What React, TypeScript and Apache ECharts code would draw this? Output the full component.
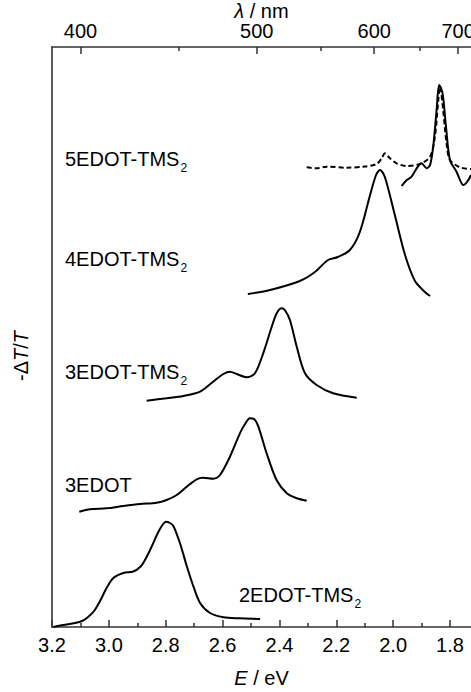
import React, { useEffect, useRef } from "react";
import * as echarts from "echarts";

// Photon energy (eV) vs. normalised -ΔT/T (arbitrary units, traces stacked with offsets)
const edot2Tms2: number[][] = [
  [3.195, 0], [3.161, 0.2], [3.119, 0.4], [3.094, 0.6], [3.073, 1.0], [3.052, 1.6],
  [3.031, 2.6], [3.008, 3.9], [2.984, 4.9], [2.949, 5.4], [2.914, 5.55], [2.89, 6.0],
  [2.873, 6.7], [2.855, 7.7], [2.826, 9.5], [2.809, 10.3], [2.799, 10.53], [2.785, 10.4],
  [2.773, 10.1], [2.75, 8.4], [2.726, 6.1], [2.703, 4.1], [2.679, 2.4], [2.644, 1.4],
  [2.597, 0.97], [2.539, 0.87], [2.468, 0.8],
];

const edot3: number[][] = [
  [3.104, 11.53], [3.066, 11.77], [3.008, 11.87], [2.949, 12.1], [2.89, 12.3],
  [2.832, 12.43], [2.797, 12.7], [2.761, 13.2], [2.726, 14.03], [2.691, 14.77],
  [2.668, 14.93], [2.633, 14.83], [2.609, 15.2], [2.574, 17.03], [2.539, 19.37],
  [2.521, 20.3], [2.504, 20.87], [2.489, 20.8], [2.474, 20.03], [2.445, 17.37],
  [2.41, 14.7], [2.374, 13.37], [2.339, 12.87], [2.304, 12.63],
];

const edot3Tms2: number[][] = [
  [2.867, 22.63], [2.797, 22.87], [2.738, 23.1], [2.679, 23.53], [2.633, 24.53],
  [2.597, 25.3], [2.574, 25.53], [2.55, 25.3], [2.515, 24.97], [2.486, 25.37],
  [2.457, 27.37], [2.427, 30.03], [2.409, 31.4], [2.392, 31.87], [2.381, 31.7],
  [2.363, 30.7], [2.339, 28.03], [2.31, 25.37], [2.269, 24.2], [2.211, 23.37],
  [2.128, 22.93],
];

const edot4Tms2: number[][] = [
  [2.511, 33.3], [2.433, 33.7], [2.328, 34.6], [2.275, 35.5], [2.229, 36.7],
  [2.194, 37.0], [2.152, 37.7], [2.117, 39.5], [2.081, 43.2], [2.06, 45.2],
  [2.046, 45.7], [2.029, 45.0], [1.994, 41.2], [1.958, 37.2], [1.923, 34.6],
  [1.888, 33.5], [1.87, 33.1],
];

const edot5Tms2Dashed: number[][] = [
  [2.304, 45.97], [2.269, 45.87], [2.234, 46.03], [2.163, 45.93], [2.105, 46.03],
  [2.058, 46.3], [2.04, 46.87], [2.029, 47.37], [2.011, 46.87], [1.988, 46.37],
  [1.952, 46.1], [1.906, 46.3], [1.87, 47.03], [1.853, 49.03], [1.841, 52.7],
  [1.835, 54.03], [1.824, 51.7], [1.812, 48.37], [1.8, 46.7], [1.765, 45.97],
  [1.726, 45.8],
];

const edot5Tms2Solid: number[][] = [
  [1.97, 44.1], [1.952, 44.7], [1.935, 45.03], [1.917, 45.87], [1.9, 46.37],
  [1.882, 45.87], [1.87, 46.2], [1.859, 48.03], [1.847, 51.7], [1.838, 54.2],
  [1.826, 53.37], [1.814, 50.03], [1.8, 46.7], [1.777, 45.53], [1.753, 44.2],
  [1.74, 44.5], [1.726, 45.2],
];

// Axis ticks
const energyMajor = [3.2, 3.0, 2.8, 2.6, 2.4, 2.2, 2.0, 1.8];
const energyMinor = [3.1, 2.9, 2.7, 2.5, 2.3, 2.1, 1.9];
const lambdaMajor = [400, 500, 600, 700];
const lambdaMinor = [450, 550, 650, 750];

const HC = 1239.84; // eV·nm
const E_MIN = 1.726;
const E_MAX = 3.2;

const FONT = "'Liberation Sans', Arial, sans-serif";
const INK = "#000";
const AXIS = "#333";

const traceLabels = [
  { main: "5EDOT-TMS", sub: "2", x: 65, y: 149 },
  { main: "4EDOT-TMS", sub: "2", x: 65, y: 249 },
  { main: "3EDOT-TMS", sub: "2", x: 65, y: 362 },
  { main: "3EDOT", sub: "", x: 65, y: 475 },
  { main: "2EDOT-TMS", sub: "2", x: 239, y: 585 },
];

const italicRich = {
  i: { fontStyle: "italic", fontFamily: FONT, fontSize: 20, lineHeight: 18, fill: INK, color: INK },
};

export default function App() {
  const ref = useRef<HTMLDivElement>(null);

  useEffect(() => {
    if (!ref.current) return;
    const chart = echarts.init(ref.current, undefined, { renderer: "svg" });

    const line = (data: number[][], dashed = false) => ({
      type: "line",
      data,
      xAxisIndex: 0,
      yAxisIndex: 0,
      showSymbol: false,
      smooth: 0.3,
      clip: true,
      lineStyle: { color: INK, width: 2, type: dashed ? [5, 3] : "solid" },
      silent: true,
    });

    const tickStyle = { color: AXIS, width: 1.5 };

    const labelGraphics = traceLabels.map((l) => ({
      type: "text",
      x: l.x,
      y: l.y,
      silent: true,
      style: {
        text: l.sub ? `{m|${l.main}}{s|${l.sub}}` : `{m|${l.main}}`,
        align: "left",
        verticalAlign: "top",
        fill: INK,
        rich: {
          m: { fontFamily: FONT, fontSize: 20, lineHeight: 20, verticalAlign: "top", fill: INK },
          s: {
            fontFamily: FONT,
            fontSize: 12,
            lineHeight: 12,
            verticalAlign: "top",
            padding: [13, 0, 0, 1],
            fill: INK,
          },
        },
      },
    }));

    // vertical axis title
    const yTitle = {
      type: "text",
      x: 21,
      y: 356,
      rotation: Math.PI / 2,
      silent: true,
      style: {
        text: "-Δ{i|T}/{i|T}",
        align: "center",
        verticalAlign: "middle",
        fontFamily: FONT,
        fontSize: 20,
        fill: INK,
        rich: italicRich,
      },
    };

    chart.setOption({
      animation: false,
      backgroundColor: "#fff",
      grid: {
        left: 52,
        right: 0,
        top: 47,
        bottom: 65,
        containLabel: false,
        outerBoundsMode: "none",
      },
      xAxis: [
        {
          type: "value",
          position: "bottom",
          inverse: true,
          min: E_MIN,
          max: E_MAX,
          name: "{i|E} / eV",
          nameLocation: "middle",
          nameGap: 42,
          nameMoveOverlap: false,
          nameTextStyle: { fontFamily: FONT, fontSize: 20, lineHeight: 18, color: INK, rich: italicRich },
          axisLine: { show: true, lineStyle: { color: AXIS, width: 1.6 } },
          axisTick: { show: true, inside: true, length: 7, lineStyle: tickStyle, customValues: energyMajor },
          axisLabel: {
            customValues: energyMajor,
            formatter: (v: number) => v.toFixed(1),
            fontFamily: FONT,
            fontSize: 20,
            lineHeight: 18,
            color: INK,
            margin: 9,
            showMinLabel: true,
            showMaxLabel: true,
            hideOverlap: false,
          },
          splitLine: { show: false },
        },
        {
          type: "value",
          position: "bottom",
          inverse: true,
          min: E_MIN,
          max: E_MAX,
          axisLine: { show: false },
          axisTick: { show: true, inside: true, length: 4, lineStyle: tickStyle, customValues: energyMinor },
          axisLabel: { show: false },
          splitLine: { show: false },
        },
        {
          type: "value",
          position: "top",
          inverse: true,
          min: E_MIN,
          max: E_MAX,
          name: "{i|λ} / nm",
          nameLocation: "middle",
          nameGap: 27,
          nameMoveOverlap: false,
          nameTextStyle: { fontFamily: FONT, fontSize: 20, lineHeight: 18, color: INK, rich: italicRich },
          axisLine: { show: true, lineStyle: { color: AXIS, width: 1.6 } },
          axisTick: {
            show: true,
            inside: true,
            length: 7,
            lineStyle: tickStyle,
            customValues: lambdaMajor.map((l) => HC / l),
          },
          axisLabel: {
            customValues: lambdaMajor.map((l) => HC / l),
            formatter: (v: number) => String(Math.round(HC / v / 10) * 10),
            fontFamily: FONT,
            fontSize: 20,
            lineHeight: 18,
            color: INK,
            margin: 7,
            hideOverlap: false,
          },
          splitLine: { show: false },
        },
        {
          type: "value",
          position: "top",
          inverse: true,
          min: E_MIN,
          max: E_MAX,
          axisLine: { show: false },
          axisTick: {
            show: true,
            inside: true,
            length: 4,
            lineStyle: tickStyle,
            customValues: lambdaMinor.map((l) => HC / l).filter((e) => e >= E_MIN),
          },
          axisLabel: { show: false },
          splitLine: { show: false },
        },
      ],
      yAxis: {
        type: "value",
        min: 0,
        max: 58,
        axisLine: { show: true, lineStyle: { color: AXIS, width: 1.6 } },
        axisTick: { show: false },
        axisLabel: { show: false },
        splitLine: { show: false },
      },
      series: [
        line(edot2Tms2),
        line(edot3),
        line(edot3Tms2),
        line(edot4Tms2),
        line(edot5Tms2Dashed, true),
        line(edot5Tms2Solid),
      ],
      graphic: [...labelGraphics, yTitle],
    });

    return () => chart.dispose();
  }, []);

  return (
    <div
      ref={ref}
      style={{ position: "fixed", left: 0, top: 0, width: 471, height: 692, background: "#fff" }}
    />
  );
}
